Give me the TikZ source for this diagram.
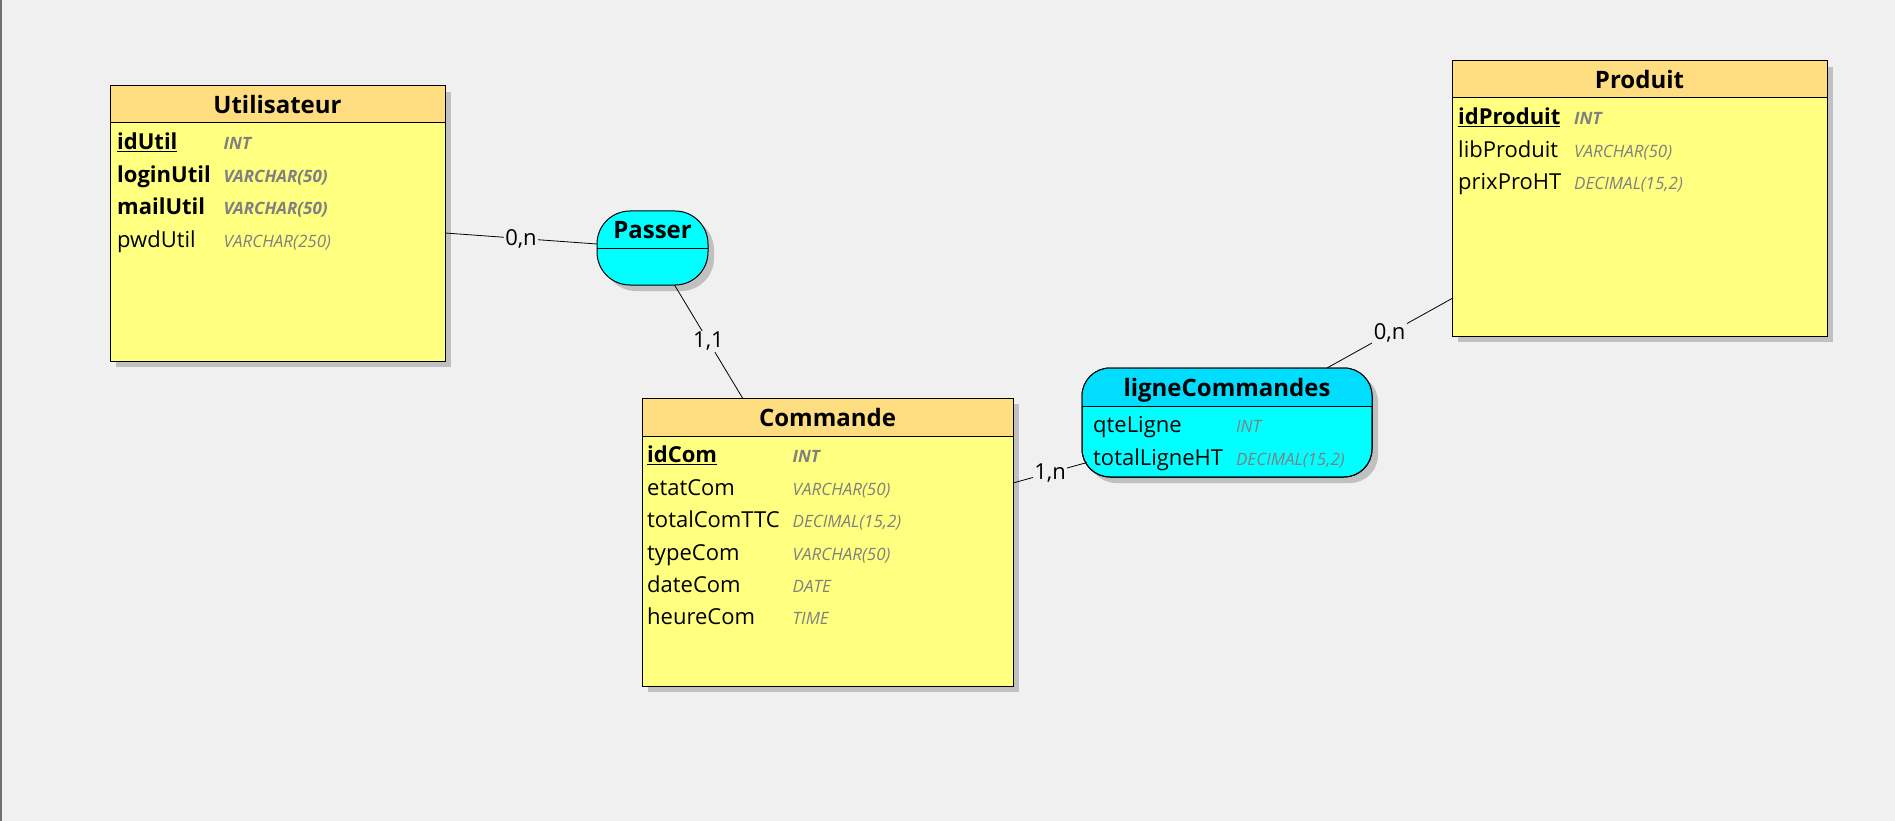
\documentclass[tikz,border=0pt]{standalone}
\usepackage{fontspec}
\setmainfont{Open Sans}
\usetikzlibrary{matrix, shadows, calc}
\definecolor{bg}{RGB}{240,240,240}
\definecolor{enthead}{RGB}{255,221,128}
\definecolor{entbody}{RGB}{255,255,128}
\definecolor{assohead}{RGB}{0,221,255}
\definecolor{assobody}{RGB}{0,255,255}
\definecolor{shade}{RGB}{192,192,192}
\definecolor{typegray}{RGB}{128,128,128}
\definecolor{frame}{RGB}{112,112,112}
\newcommand{\typ}[1]{{\fontsize{17pt}{19pt}\selectfont\itshape\color{typegray}#1}}
\newcommand{\ktyp}[1]{{\fontsize{17pt}{19pt}\selectfont\bfseries\itshape\color{typegray}#1}}
\newcommand{\pk}[1]{\underline{\textbf{#1}}}
\tikzset{
  box/.style={draw, line width=1pt, outer sep=0pt, inner sep=0pt, fill=entbody,
              drop shadow={shadow xshift=6pt, shadow yshift=-6pt, fill=shade, opacity=1}},
  title/.style={inner sep=0pt, text height=18pt, text depth=0pt,
                font=\fontsize{24pt}{28pt}\selectfont\bfseries},
  head/.style={title, draw, line width=1pt, outer sep=0pt, anchor=north,
               fill=enthead, minimum height=37pt},
  asso/.style={box, fill=assobody, rounded corners=28pt},
  attrs/.style={matrix of nodes, anchor=north west, inner sep=0pt, column sep=13pt,
                nodes={anchor=base west, inner xsep=0pt, inner ysep=5.7pt,
                       text height=16pt, text depth=5pt,
                       font=\fontsize{22pt}{26pt}\selectfont}},
  link/.style={line width=0.8pt},
  card/.style={fill=bg, inner sep=1.5pt, font=\fontsize{22pt}{26pt}\selectfont},
}
\begin{document}
\begin{tikzpicture}[x=1pt, y=-1pt]
\path[use as bounding box, fill=bg] (0,0) rectangle (1895,821);
\draw[frame, line width=2pt] (1,0) -- (1,821);

% entities
\node[box, minimum width=335pt, minimum height=275pt] (util) at (277.5,223.5) {};
\node[head, minimum width=335pt] (util-head) at (util.north) {Utilisateur};
\matrix (util-attr) [attrs] at ([xshift=7pt,yshift=-5pt]util-head.south west) {
  \pk{idUtil}        & \ktyp{INT} \\
  \textbf{loginUtil} & \ktyp{VARCHAR(50)} \\
  \textbf{mailUtil}  & \ktyp{VARCHAR(50)} \\
  pwdUtil            & \typ{VARCHAR(250)} \\
};

\node[box, minimum width=371pt, minimum height=288pt] (cmd) at (827.5,542) {};
\node[head, minimum width=371pt, minimum height=38pt] (cmd-head) at (cmd.north) {Commande};
\matrix (cmd-attr) [attrs] at ([xshift=5pt,yshift=-5pt]cmd-head.south west) {
  \pk{idCom}   & \ktyp{INT} \\
  etatCom      & \typ{VARCHAR(50)} \\
  totalComTTC  & \typ{DECIMAL(15,2)} \\
  typeCom      & \typ{VARCHAR(50)} \\
  dateCom      & \typ{DATE} \\
  heureCom     & \typ{TIME} \\
};

\node[box, minimum width=375pt, minimum height=275pt] (prod) at (1639.5,198.5) {};
\node[head, minimum width=375pt] (prod-head) at (prod.north) {Produit};
\matrix (prod-attr) [attrs] at ([xshift=6pt,yshift=-5pt]prod-head.south west) {
  \pk{idProduit} & \ktyp{INT} \\
  libProduit     & \typ{VARCHAR(50)} \\
  prixProHT      & \typ{DECIMAL(15,2)} \\
};

% associations
\node[asso, rounded corners=33pt, minimum width=111pt, minimum height=74pt] (passer) at (652.5,248) {};
\draw[line width=1pt] (passer.west) -- (passer.east);
\node[title] (passer-head) at ([yshift=-18.5pt]passer.north) {Passer};

\node[asso, minimum width=290pt, minimum height=109pt] (lc) at (1227,422.5) {};
\begin{scope}
  \clip[rounded corners=28pt] (lc.south west) rectangle (lc.north east);
  \fill[assohead] (lc.north west) rectangle ([yshift=-38pt]lc.north east);
\end{scope}
\draw[line width=1pt, rounded corners=28pt] (lc.south west) rectangle (lc.north east);
\draw[line width=1pt] ([yshift=-38pt]lc.north west) -- ([yshift=-38pt]lc.north east);
\node[title] (lc-head) at ([yshift=-19pt]lc.north) {ligneCommandes};
\matrix (lc-attr) [attrs] at ([xshift=11pt,yshift=-43pt]lc.north west) {
  qteLigne     & \typ{INT} \\
  totalLigneHT & \typ{DECIMAL(15,2)} \\
};

% links
\draw[link] ([yshift=-9.5pt]util.east) -- node[card] {0,n} ([yshift=4pt]passer.west);
\draw[link] ([xshift=22pt]passer.south) -- node[card] {1,1} ([xshift=-85pt]cmd.north);
\draw[link] ([yshift=59pt]cmd.east) -- node[card] {1,n} ([xshift=5pt,yshift=-40pt]lc.west);
\draw[link] ([xshift=100pt]lc.north) -- node[card] {0,n} ([yshift=-100pt]prod.west);
\end{tikzpicture}
\end{document}
